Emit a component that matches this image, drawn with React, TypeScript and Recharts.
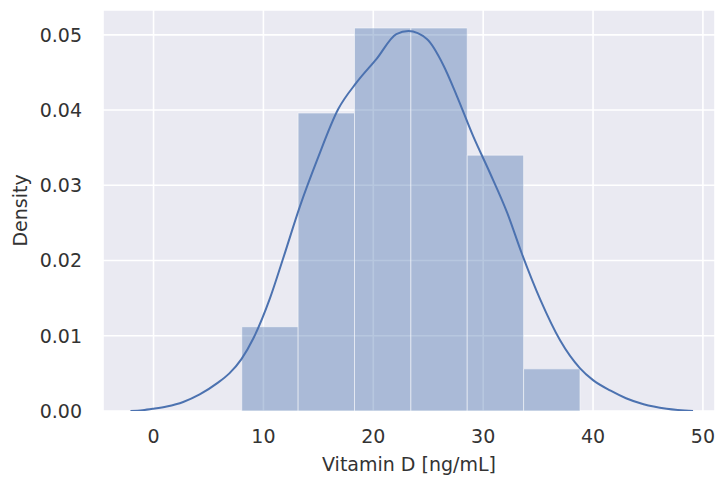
import {
  ComposedChart,
  Line,
  XAxis,
  YAxis,
  CartesianGrid,
  ReferenceArea,
} from "recharts";

// histogram bins (ng/mL) and their densities
const binEdges = [8.03, 13.16, 18.29, 23.42, 28.55, 33.68, 38.81];
const binDensity = [0.0112, 0.0396, 0.0509, 0.0509, 0.034, 0.0056];

// kde curve
const kdeX = [
  -2.1, -1.0, 0.0, 1.2, 2.7, 4.2, 5.8, 6.9, 8.0, 9.1, 10.6, 11.8, 13.3, 14.9,
  16.8, 18.5, 20.3, 22.1, 23.2, 24.9, 26.4, 27.6, 29.1, 30.6, 32.2, 33.5,
  35.2, 37.0, 38.8, 40.0, 41.6, 43.0, 44.6, 46.7, 49.1,
];
const kdeY = [
  0.0, 0.0001, 0.0003, 0.0006, 0.0012, 0.0022, 0.0037, 0.005, 0.0069, 0.0097,
  0.015, 0.0203, 0.0271, 0.0334, 0.0401, 0.0437, 0.0468, 0.0501, 0.0505,
  0.0494, 0.0459, 0.0419, 0.0365, 0.0317, 0.0263, 0.021, 0.0148, 0.0094,
  0.0057, 0.0041, 0.0027, 0.0017, 0.0009, 0.0003, 0.0,
];

const xTicks = [0, 10, 20, 30, 40, 50];
const yTicks = [0, 0.01, 0.02, 0.03, 0.04, 0.05];

const kdeData = kdeX.map((x, i) => ({ x, y: kdeY[i] }));

const blue = "#4C72B0";
const font = { fontFamily: "DejaVu Sans", fontSize: 19, fill: "#333" };

export default function App() {
  return (
    <div style={{ position: "absolute", left: 0, top: 0, background: "#fff" }}>
      <ComposedChart
        width={715}
        height={480}
        data={kdeData}
        margin={{ top: 10, right: 0, bottom: 0, left: 0 }}
      >
        <CartesianGrid
          fill="#EAEAF2"
          fillOpacity={1}
          stroke="#fff"
          strokeWidth={1.6}
        />
        <XAxis
          dataKey="x"
          type="number"
          domain={[-4.6, 51.1]}
          ticks={xTicks}
          allowDataOverflow
          axisLine={false}
          tickLine={false}
          tickSize={0}
          tickMargin={19}
          height={69}
          tick={font}
          label={{
            value: "Vitamin D [ng/mL]",
            position: "insideBottom",
            offset: 9,
            style: font,
          }}
        />
        <YAxis
          type="number"
          domain={[0, 0.0533]}
          ticks={yTicks}
          allowDataOverflow
          axisLine={false}
          tickLine={false}
          tickSize={0}
          tickMargin={21}
          width={103}
          tick={font}
          tickFormatter={(v: number) => v.toFixed(2)}
          label={{
            value: "Density",
            angle: -90,
            position: "insideLeft",
            offset: 20,
            style: { ...font, textAnchor: "middle" },
          }}
        />
        {binDensity.map((h, i) => (
          <ReferenceArea
            key={i}
            x1={binEdges[i]}
            x2={binEdges[i + 1]}
            y1={0}
            y2={h}
            fill={blue}
            fillOpacity={0.4}
            stroke="#fff"
            strokeOpacity={0.5}
            strokeWidth={1}
          />
        ))}
        <Line
          dataKey="y"
          type="monotone"
          stroke={blue}
          strokeWidth={2}
          dot={false}
          isAnimationActive={false}
        />
      </ComposedChart>
    </div>
  );
}
